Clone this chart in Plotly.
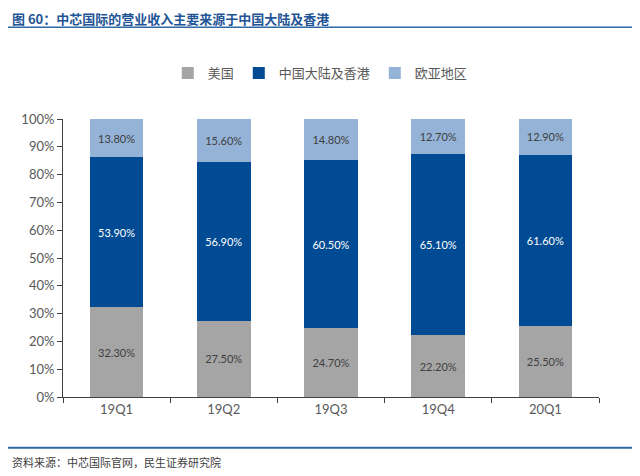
import plotly.graph_objects as go

# 数据
quarters = ["19Q1", "19Q2", "19Q3", "19Q4", "20Q1"]
usa = [32.3, 27.5, 24.7, 22.2, 25.5]
china_hk = [53.9, 56.9, 60.5, 65.1, 61.6]
eurasia = [13.8, 15.6, 14.8, 12.7, 12.9]

y_ticks = [0, 10, 20, 30, 40, 50, 60, 70, 80, 90, 100]

title_text = "图 60：中芯国际的营业收入主要来源于中国大陆及香港"
source_text = "资料来源：中芯国际官网，民生证券研究院"

num_font = "Lato, Open Sans, sans-serif"
cjk_font = "Noto Sans CJK SC"


def pct(vals):
    return ["%.2f%%" % v for v in vals]


fig = go.Figure()

fig.add_trace(go.Bar(
    name="美国", x=quarters, y=usa,
    marker=dict(color="#A5A5A5", line=dict(width=0)),
    text=pct(usa), textposition="inside", insidetextanchor="middle",
    textfont=dict(color="#404040", size=11, family=num_font),
))
fig.add_trace(go.Bar(
    name="中国大陆及香港", x=quarters, y=china_hk,
    marker=dict(color="#004B93", line=dict(width=0)),
    text=pct(china_hk), textposition="inside", insidetextanchor="middle",
    textfont=dict(color="#FFFFFF", size=11, family=num_font),
))
fig.add_trace(go.Bar(
    name="欧亚地区", x=quarters, y=eurasia,
    marker=dict(color="#95B3D7", line=dict(width=0)),
    text=pct(eurasia), textposition="inside", insidetextanchor="middle",
    textfont=dict(color="#404040", size=11, family=num_font),
))

fig.update_layout(
    barmode="stack",
    bargap=0.5,
    width=640, height=476,
    margin=dict(l=55, r=49, t=111, b=87),
    plot_bgcolor="white",
    paper_bgcolor="white",
    uniformtext=dict(mode=False),
    legend=dict(
        orientation="h",
        x=0.48, xanchor="center",
        y=1.165, yanchor="middle",
        font=dict(family=cjk_font, size=13, color="#595959"),
        itemwidth=30,
        traceorder="normal",
    ),
    xaxis=dict(
        type="category",
        showline=True, linecolor="#404040", linewidth=1,
        ticks="outside", tickson="boundaries", ticklen=5, tickcolor="#404040",
        tickfont=dict(family=num_font, size=13, color="#595959"),
        showgrid=False,
    ),
    yaxis=dict(
        range=[0, 100],
        tickvals=y_ticks,
        ticktext=["%d%%" % t for t in y_ticks],
        showline=True, linecolor="#404040", linewidth=1,
        ticks="outside", ticklen=5, tickcolor="#404040",
        tickfont=dict(family=num_font, size=13, color="#595959"),
        showgrid=False, zeroline=False,
    ),
    annotations=[
        dict(text="<b>" + title_text + "</b>", xref="paper", yref="paper",
             x=-0.098, y=1.36, xanchor="left", yanchor="middle", showarrow=False,
             font=dict(family=cjk_font, size=13, color="#1F5596")),
        dict(text=source_text, xref="paper", yref="paper",
             x=-0.098, y=-0.235, xanchor="left", yanchor="middle", showarrow=False,
             font=dict(family=cjk_font, size=11, color="#404040")),
    ],
    shapes=[
        dict(type="line", xref="paper", yref="paper",
             x0=-0.105, x1=1.095, y0=1.33, y1=1.33,
             line=dict(color="#2E6AA6", width=1.5)),
        dict(type="line", xref="paper", yref="paper",
             x0=-0.105, x1=1.08, y0=-0.183, y1=-0.183,
             line=dict(color="#2E6AA6", width=2)),
    ],
)

fig.write_html("out.html")
